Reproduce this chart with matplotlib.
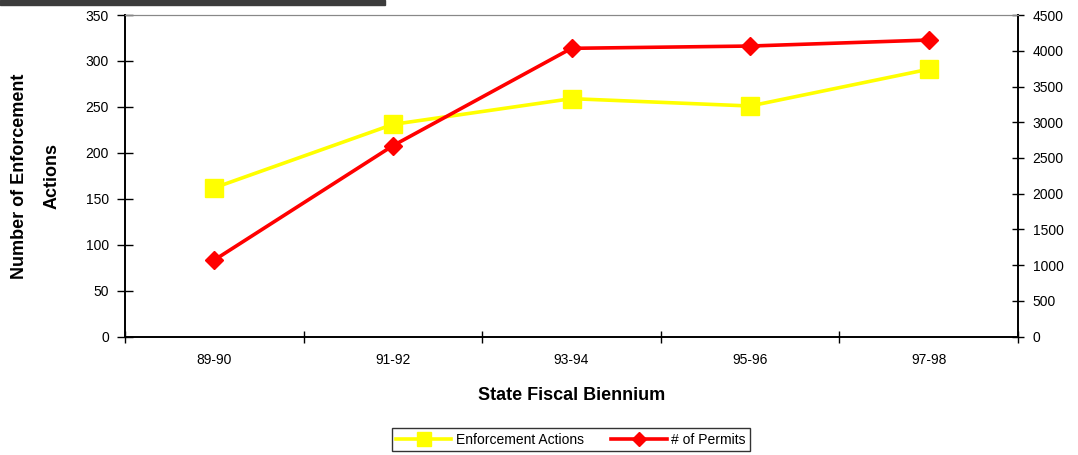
import matplotlib.pyplot as plt
from matplotlib.patches import Rectangle

plt.rcParams['font.family'] = ['Liberation Sans', 'DejaVu Sans']

# data
biennium = ['89-90', '91-92', '93-94', '95-96', '97-98']
enforcement_actions = [162, 231, 259, 251, 291]
permits = [1073, 2672, 4034, 4066, 4150]

fig = plt.figure(figsize=(10.78, 4.55), dpi=100)
ax = fig.add_axes([0.116, 0.26, 0.8283, 0.707])
ax2 = ax.twinx()

x = range(len(biennium))
l1, = ax.plot(x, enforcement_actions, color='#ffff00', lw=2.6, marker='s',
              markersize=13, label='Enforcement Actions', zorder=3)
l2, = ax2.plot(x, permits, color='#ff0000', lw=2.6, marker='D',
               markersize=9, label='# of Permits', zorder=3)

ax.set_xlim(-0.5, len(biennium) - 0.5)
ax.set_ylim(0, 350)
ax2.set_ylim(0, 4500)
ax.set_yticks(range(0, 351, 50))
ax2.set_yticks(range(0, 4501, 500))

# category labels centred, tick marks on the boundaries
ax.set_xticks(list(x))
ax.set_xticklabels(biennium, fontsize=10)
ax.set_xticks([i - 0.5 for i in range(len(biennium) + 1)], minor=True)
ax.tick_params(axis='x', which='major', length=0, pad=12)
ax.tick_params(axis='x', which='minor', direction='inout', length=8, width=1)
ax.tick_params(axis='y', direction='inout', length=11, width=1, labelsize=10, pad=6)
ax2.tick_params(axis='y', direction='inout', length=9, width=1, labelsize=10, pad=6)

for a in (ax, ax2):
    a.spines['top'].set_color('#888888')
    a.spines['top'].set_linewidth(0.8)
    for s in ('left', 'right', 'bottom'):
        a.spines[s].set_linewidth(1.2)
        a.spines[s].set_color('black')

ax.set_xlabel('State Fiscal Biennium', fontsize=13, fontweight='bold', labelpad=14)
ax.set_ylabel('Number of Enforcement\nActions', fontsize=13, fontweight='bold',
              labelpad=18, linespacing=2.2)

leg = fig.legend(handles=[l1, l2], loc='center', bbox_to_anchor=(0.5295, 0.034),
                 ncol=2, fontsize=10, frameon=True, fancybox=False,
                 handlelength=4.0, markerscale=0.75, columnspacing=2.0,
                 handletextpad=0.3, borderpad=0.3, borderaxespad=0.6)
leg.get_frame().set_edgecolor('black')
leg.get_frame().set_linewidth(1)

# dark strip along the top-left edge
fig.patches.append(Rectangle((0, 0.988), 0.357, 0.012, transform=fig.transFigure,
                             color='#3c3c3c', zorder=0))

fig.savefig('out.png', dpi=100)
